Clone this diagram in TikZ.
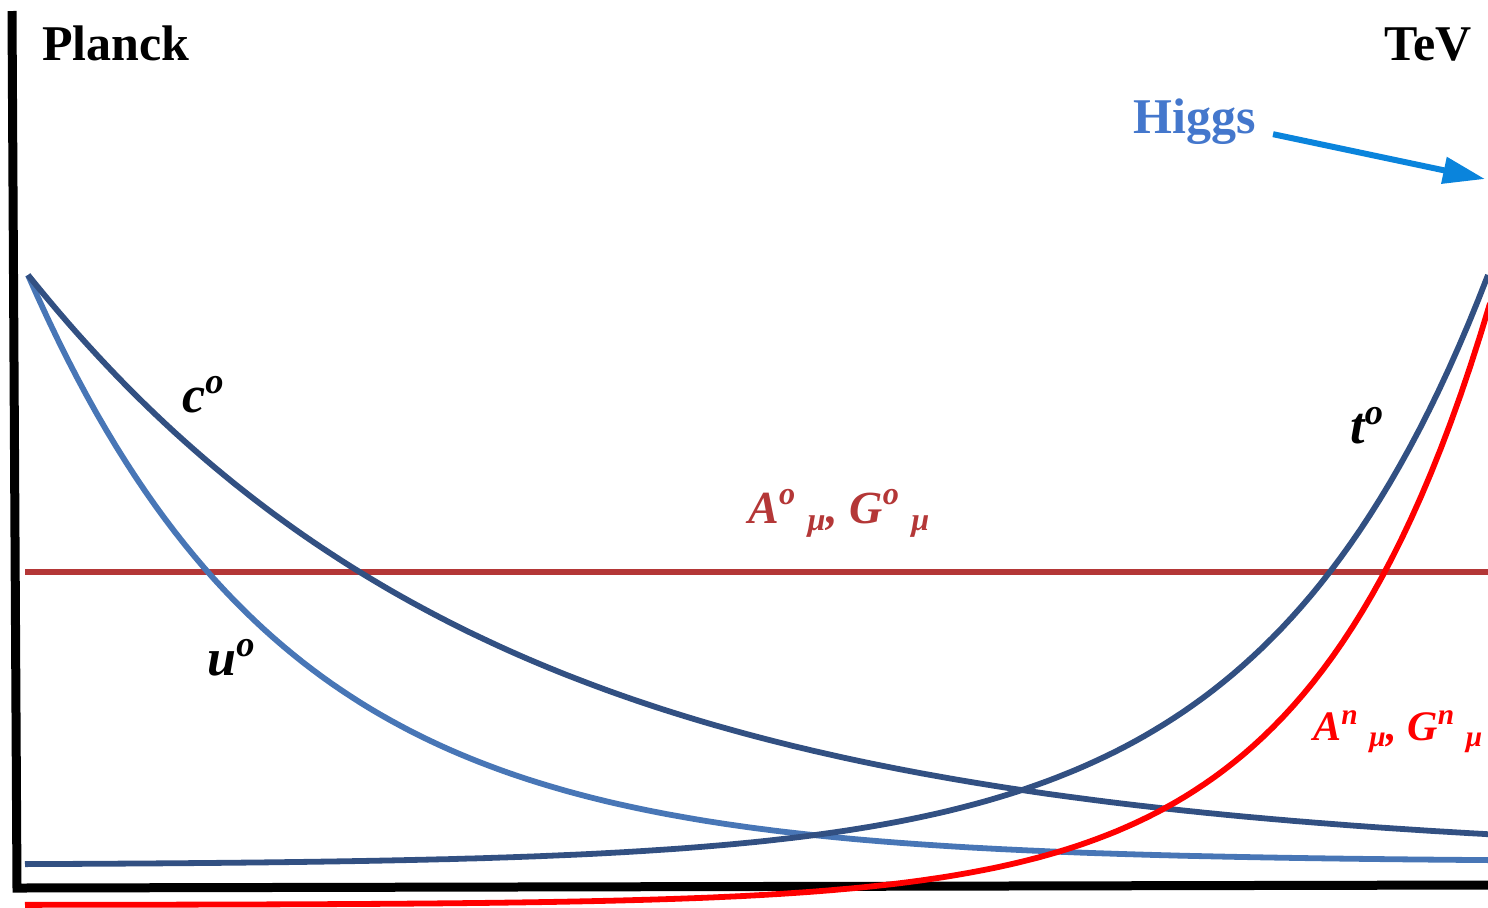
\documentclass[tikz,border=0pt]{standalone}
\usepackage{fontspec}
\setmainfont{Liberation Serif}
\usetikzlibrary{arrows.meta}

\definecolor{darkblue}{RGB}{50,80,130}
\definecolor{midblue}{RGB}{72,118,182}
\definecolor{brickred}{RGB}{180,55,55}
\definecolor{higgsblue}{RGB}{68,119,204}
\definecolor{arrowblue}{RGB}{10,132,220}

\newcommand{\supsub}[2]{\textsuperscript{#1}\hspace{0.25em}\textsubscript{#2}}

\begin{document}
\begin{tikzpicture}[x=0.5pt,y=-0.5pt,
  axis/.style={line width=4.5pt,line join=miter},
  curve/.style={line width=2.9pt},
  head/.style={inner sep=0pt,font=\fontsize{25}{28}\selectfont\bfseries},
  field/.style={inner sep=0pt,font=\fontsize{26}{28}\selectfont\bfseries\itshape},
  gauge/.style={inner sep=0pt,font=\fontsize{23}{25}\selectfont\bfseries\itshape}]
  \useasboundingbox (0,0) rectangle (1488,907);
  % axes
  \coordinate (top) at (12,11);
  \coordinate (origin) at (17,888);
  \coordinate (right) at (1490,885);
  \draw[axis] (top) -- (origin) -- (right);
  % scale labels
  \node[head,anchor=base west] (planck) at (42,60) {Planck};
  \node[head,anchor=base east] (tev) at (1472,60) {TeV};
  \node[head,anchor=base west,text=higgsblue] (higgs) at (1133,133) {Higgs};
  \coordinate (hend) at (1485,179);
  \draw[arrowblue,line width=3pt,-{Triangle[length=21pt,width=13pt]}]
    ([shift={(17,13)}]higgs.east) -- (hend);
  % old gauge fields
  \coordinate (gl) at (25,572);
  \coordinate (gr) at (1490,572);
  \draw[brickred,line width=2.8pt] (gl) -- (gr);
  \node[gauge,anchor=base west,text=brickred] (aold) at (748,523)
    {A\supsub{o}{μ}, G\supsub{o}{μ}};
  % decaying curves
  \draw[curve,midblue] plot[domain=28:1490,samples=150]
    (\x,{862-587*exp(-(\x-28)/255)});
  \draw[curve,darkblue] plot[domain=28:1490,samples=150]
    (\x,{860-585*exp(-(\x-28)/468)});
  % growing curves
  \draw[curve,darkblue] plot[domain=25:1488,samples=150]
    (\x,{865-590*exp((\x-1488)/226)});
  \draw[curve,red] plot[domain=25:1490,samples=150]
    (\x,{905-595*exp((\x-1488)/178)});
  % field labels
  \node[field,anchor=base west] (cold) at (182,412) {c\textsuperscript{o}};
  \node[field,anchor=base west] (uold) at (207,675) {u\textsuperscript{o}};
  \node[field,anchor=base west] (told) at (1350,443) {t\textsuperscript{o}};
  \node[gauge,anchor=base west,text=red,font=\fontsize{21}{23}\selectfont\bfseries\itshape]
    (anew) at (1313,740) {A\supsub{n}{μ}, G\supsub{n}{μ}};
\end{tikzpicture}
\end{document}
